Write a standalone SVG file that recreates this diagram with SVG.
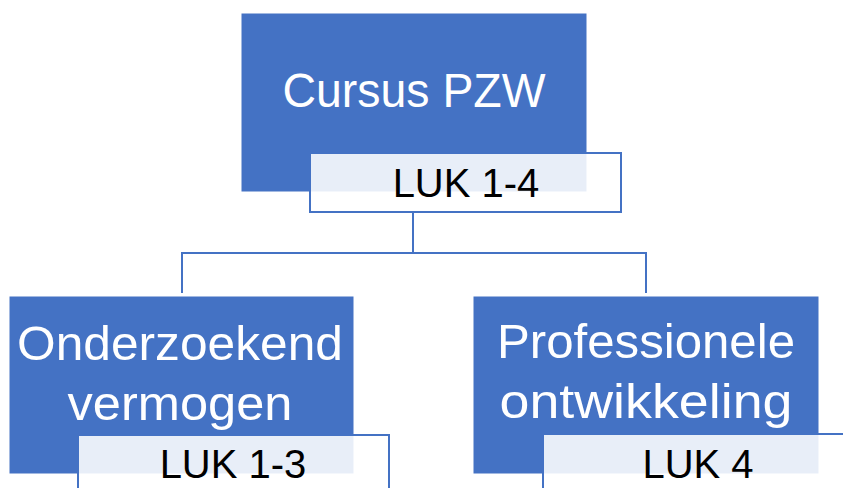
<svg xmlns="http://www.w3.org/2000/svg" width="843" height="488" viewBox="0 0 843 488">
<style>
.box{fill:#4472C4;stroke:#4472C4;stroke-width:1}
.lab{fill:#ffffff;fill-opacity:0.88;stroke:#4472C4;stroke-width:2}
.t{font-family:"Liberation Sans",Arial,sans-serif;fill:#ffffff;text-anchor:middle;font-size:49px}
.l{font-family:"Liberation Sans",Arial,sans-serif;fill:#000000;text-anchor:middle;font-size:40px}
.c{fill:none;stroke:#4472C4;stroke-width:2}
</style>
<rect width="843" height="488" fill="#ffffff"/>
<g id="connectors">
<path class="c" d="M413 212 V253 M182 293 V253 H646 V293"/>
</g>
<g id="node-cursus">
<rect class="box" x="242" y="14" width="344" height="177"/>
<text class="t" x="414" y="107" textLength="263" lengthAdjust="spacingAndGlyphs">Cursus PZW</text>
<rect class="lab" x="310" y="153" width="311" height="59"/>
<text class="l" x="466" y="197">LUK 1-4</text>
</g>
<g id="node-onderzoekend">
<rect class="box" x="10" y="297" width="343" height="176"/>
<text class="t" x="180" y="360" textLength="326" lengthAdjust="spacingAndGlyphs">Onderzoekend</text>
<text class="t" x="180" y="420" textLength="225" lengthAdjust="spacingAndGlyphs">vermogen</text>
<rect class="lab" x="78" y="435" width="311" height="60"/>
<text class="l" x="233" y="478">LUK 1-3</text>
</g>
<g id="node-professionele">
<rect class="box" x="474" y="297" width="344" height="176"/>
<text class="t" x="646" y="358" textLength="298" lengthAdjust="spacingAndGlyphs">Professionele</text>
<text class="t" x="646" y="418" textLength="293" lengthAdjust="spacingAndGlyphs">ontwikkeling</text>
<rect class="lab" x="543" y="434" width="311" height="60"/>
<text class="l" x="698" y="478">LUK 4</text>
</g>
</svg>
